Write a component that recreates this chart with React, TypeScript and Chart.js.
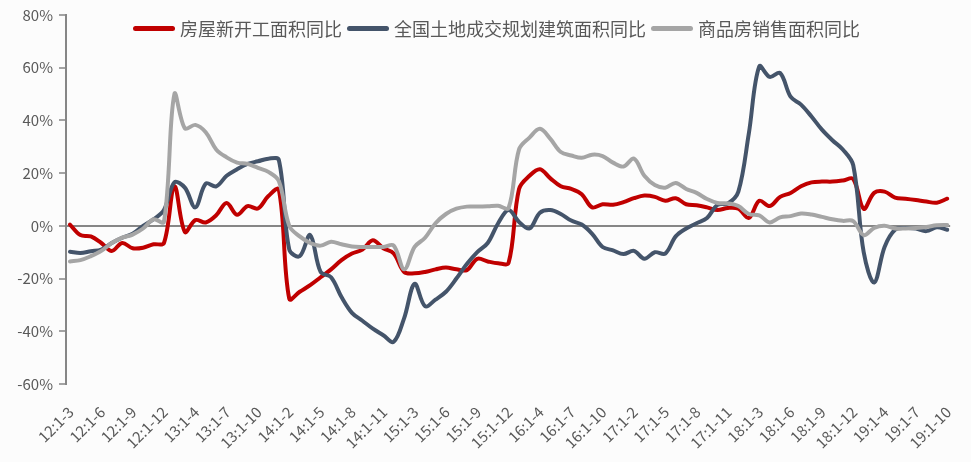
import React, { useEffect, useRef } from 'react';
import { Chart, registerables } from 'chart.js';

Chart.register(...registerables);

// Monthly cumulative periods (Jan–Feb combined), 2012:1-3 … 2019:1-10
const categories = [
  '12:1-3', '12:1-4', '12:1-5', '12:1-6', '12:1-7', '12:1-8', '12:1-9', '12:1-10', '12:1-11', '12:1-12',
  '13:1-2', '13:1-3', '13:1-4', '13:1-5', '13:1-6', '13:1-7', '13:1-8', '13:1-9', '13:1-10', '13:1-11', '13:1-12',
  '14:1-2', '14:1-3', '14:1-4', '14:1-5', '14:1-6', '14:1-7', '14:1-8', '14:1-9', '14:1-10', '14:1-11', '14:1-12',
  '15:1-2', '15:1-3', '15:1-4', '15:1-5', '15:1-6', '15:1-7', '15:1-8', '15:1-9', '15:1-10', '15:1-11', '15:1-12',
  '16:1-2', '16:1-3', '16:1-4', '16:1-5', '16:1-6', '16:1-7', '16:1-8', '16:1-9', '16:1-10', '16:1-11', '16:1-12',
  '17:1-2', '17:1-3', '17:1-4', '17:1-5', '17:1-6', '17:1-7', '17:1-8', '17:1-9', '17:1-10', '17:1-11', '17:1-12',
  '18:1-2', '18:1-3', '18:1-4', '18:1-5', '18:1-6', '18:1-7', '18:1-8', '18:1-9', '18:1-10', '18:1-11', '18:1-12',
  '19:1-2', '19:1-3', '19:1-4', '19:1-5', '19:1-6', '19:1-7', '19:1-8', '19:1-9', '19:1-10',
];

const tickLabels = [
  '12:1-3', '12:1-6', '12:1-9', '12:1-12', '13:1-4', '13:1-7', '13:1-10', '14:1-2', '14:1-5', '14:1-8',
  '14:1-11', '15:1-3', '15:1-6', '15:1-9', '15:1-12', '16:1-4', '16:1-7', '16:1-10', '17:1-2', '17:1-5',
  '17:1-8', '17:1-11', '18:1-3', '18:1-6', '18:1-9', '18:1-12', '19:1-4', '19:1-7', '19:1-10',
];

const seriesNames = ['房屋新开工面积同比', '全国土地成交规划建筑面积同比', '商品房销售面积同比'];

// 房屋新开工面积同比 (%)
const newStarts = [
  0.5, -3.5, -4, -6.5, -9.5, -6.5, -8.5, -8.3, -7, -6.5,
  15, -2.3, 2.2, 1.3, 4, 8.7, 4.2, 7.5, 6.6, 11.3, 13.8,
  -27.7, -25, -22.5, -19.5, -16.5, -13, -10.5, -9, -5.5, -8.5, -10.5,
  -17.5, -18, -17.5, -16.5, -15.8, -16.5, -16.8, -12.5, -13.5, -14.2, -14,
  14, 19, 21.5, 18, 15, 14, 12, 7, 8.2, 8, 9,
  10.5, 11.5, 11, 9.5, 10.5, 8.2, 7.8, 7, 6, 6.8, 6.5,
  3, 9.5, 7.5, 11, 12.5, 15, 16.5, 16.8, 16.8, 17.2, 17.8,
  6.5, 12.5, 13, 10.7, 10.3, 9.8, 9.2, 8.8, 10.3,
];

// 全国土地成交规划建筑面积同比 (%)
const landArea = [
  -9.8, -10.3, -9.6, -9, -6.5, -4.5, -3, 0, 2.5, 6,
  16.5, 14.5, 7, 16, 15, 19, 21.5, 23.5, 24.5, 25.5, 25,
  -9, -11.5, -3.5, -17.5, -19.5, -27, -33, -36, -39, -41.5, -44,
  -35, -22, -30.5, -28, -25, -20, -14.5, -10, -6.5, 1, 6,
  1.5, -1, 5, 6, 4.5, 2, 0.5, -3, -8, -9.3, -10.7,
  -9.5, -12.5, -10, -10.5, -4, -1, 1, 3, 8, 8.5, 13,
  35, 60.5, 56.5, 58, 49, 46, 41.5, 36.5, 32.5, 29, 23,
  -10, -21.5, -8, -1.5, -0.8, -1, -2, -0.5, -1.5,
];

// 商品房销售面积同比 (%)
const salesArea = [
  -13.5, -13, -11.5, -9.5, -6.5, -4.5, -3.3, -1, 2.5, 1.5,
  50, 37, 38.3, 35.5, 29, 26, 24, 23.5, 22, 20.5, 17,
  0, -4, -6.5, -7.5, -6, -7, -7.8, -8, -8, -8, -7.5,
  -16.5, -8, -4.5, 1, 4.5, 6.5, 7.3, 7.3, 7.4, 7.6, 6.8,
  29, 33.5, 36.8, 33, 28, 26.7, 25.8, 27, 26.5, 24, 22.5,
  25.5, 19, 15.5, 14.5, 16.3, 14, 12.5, 10.2, 8.7, 8.5, 7.5,
  4.5, 4, 1.3, 3.2, 3.7, 4.7, 4.3, 3.4, 2.5, 1.9, 1.8,
  -3.5, -0.8, 0, -1, -1, -0.8, -0.4, 0.2, 0.3,
];

const colors = ['#C00000', '#44546A', '#A5A5A5'];
const FONT = '"Noto Sans CJK SC", "Noto Sans", sans-serif';
const TEXT = '#595959';
const AXIS = '#868686';

export default function App() {
  const ref = useRef<HTMLCanvasElement>(null);

  useEffect(() => {
    if (!ref.current) return;
    const toXY = (arr: number[]) => arr.map((v, i) => ({ x: i, y: v }));
    const tickIdx = tickLabels.map((l) => categories.indexOf(l));
    const series = [newStarts, landArea, salesArea];
    const chart = new Chart(ref.current, {
      type: 'line',
      data: {
        datasets: series.map((s, i) => ({
          label: seriesNames[i],
          data: toXY(s),
          borderColor: colors[i],
          backgroundColor: colors[i],
          borderWidth: 4,
          pointRadius: 0,
          tension: 0.35,
          borderCapStyle: 'round',
          borderJoinStyle: 'round',
          fill: false,
          order: 3 - i,
        })),
      },
      options: {
        responsive: false,
        animation: false,
        devicePixelRatio: 1,
        layout: { padding: { left: 0, right: 11, top: 14, bottom: 0 } },
        plugins: { legend: { display: false }, tooltip: { enabled: false } },
        scales: {
          x: {
            type: 'linear',
            min: -0.38,
            max: 84.28,
            afterBuildTicks: (s: any) => {
              s.ticks = tickIdx.map((v) => ({ value: v }));
            },
            afterFit: (s: any) => {
              s.height = 78;
            },
            grid: { display: false },
            border: { display: false },
            ticks: {
              autoSkip: false,
              minRotation: 45,
              maxRotation: 45,
              padding: 11,
              labelOffset: 1,
              color: TEXT,
              font: { family: FONT, size: 15 },
              callback: (v: any) => categories[v as number] ?? '',
            },
          },
          y: {
            min: -60,
            max: 80,
            afterFit: (s: any) => {
              s.width = 66;
            },
            ticks: {
              stepSize: 20,
              padding: 6,
              color: TEXT,
              font: { family: FONT, size: 15 },
              callback: (v: any) => v + '%',
            },
            grid: {
              color: (ctx: any) => (ctx.tick && ctx.tick.value === 0 ? AXIS : 'rgba(0,0,0,0)'),
              lineWidth: 2,
              tickColor: AXIS,
              tickLength: 7,
              tickWidth: 1.5,
            },
            border: { display: true, color: AXIS, width: 2 },
          },
        },
      },
    } as any);
    return () => chart.destroy();
  }, []);

  return (
    <div
      style={{
        position: 'absolute',
        left: 0,
        top: 0,
        width: 971,
        height: 462,
        background: '#fcfcfc',
        overflow: 'hidden',
      }}
    >
      <canvas ref={ref} width={971} height={462} style={{ position: 'absolute', left: 0, top: 0 }} />
      <div
        style={{
          position: 'absolute',
          left: 133,
          top: 18,
          display: 'flex',
          alignItems: 'center',
          fontFamily: FONT,
          fontSize: 18,
          lineHeight: '20px',
          color: TEXT,
          whiteSpace: 'nowrap',
        }}
      >
        {seriesNames.map((n, i) => (
          <div key={n} style={{ display: 'flex', alignItems: 'center', marginRight: 5 }}>
            <span
              style={{
                display: 'inline-block',
                width: 42,
                height: 5,
                borderRadius: 3,
                background: colors[i],
                marginRight: 5,
              }}
            />
            <span>{n}</span>
          </div>
        ))}
      </div>
    </div>
  );
}
